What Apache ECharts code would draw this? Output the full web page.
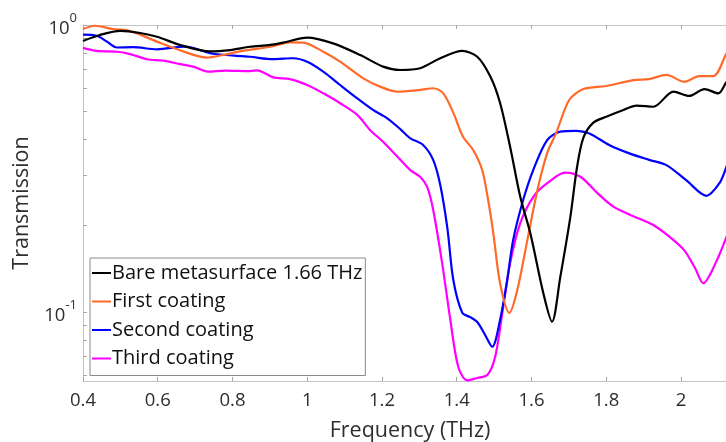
<!DOCTYPE html>
<html>
<head>
<meta charset="utf-8">
<script src="https://cdn.jsdelivr.net/npm/echarts@6/dist/echarts.min.js"></script>
<style>html,body{margin:0;padding:0;background:#fff}#c{width:726px;height:442px}</style>
</head>
<body>
<div id="c"></div>
<script>
// ---------- data ----------
const seriesNames = ['Bare metasurface 1.66 THz', 'First coating', 'Second coating', 'Third coating'];
const seriesColors = ['#000000', '#ff6a2a', '#0000ff', '#ff00ff'];

const bareFreq = [0.40,0.445,0.50,0.553,0.598,0.66,0.74,0.794,0.847,0.901,0.935,1.00,1.069,1.142,1.203,1.249,1.302,1.356,1.415,1.455,1.49,1.516,1.543,1.57,1.597,1.632,1.655,1.677,1.704,1.722,1.739,1.765,1.80,1.846,1.881,1.926,1.98,2.022,2.063,2.10,2.122,2.15];
const bareT    = [0.880,0.923,0.954,0.938,0.910,0.852,0.809,0.818,0.840,0.852,0.868,0.903,0.863,0.786,0.716,0.697,0.707,0.766,0.812,0.775,0.661,0.535,0.376,0.252,0.188,0.116,0.0925,0.132,0.214,0.320,0.405,0.456,0.479,0.506,0.524,0.519,0.586,0.566,0.598,0.578,0.634,0.70];

const firstFreq = [0.40,0.432,0.48,0.526,0.598,0.652,0.732,0.775,0.82,0.901,0.954,0.989,1.043,1.088,1.15,1.195,1.241,1.302,1.337,1.364,1.391,1.417,1.444,1.468,1.484,1.498,1.516,1.541,1.562,1.589,1.616,1.642,1.666,1.701,1.739,1.80,1.873,1.915,1.961,2.009,2.049,2.087,2.122,2.15];
const firstT    = [0.968,0.994,0.968,0.953,0.875,0.823,0.770,0.786,0.809,0.840,0.870,0.868,0.807,0.745,0.652,0.610,0.586,0.594,0.602,0.578,0.494,0.408,0.367,0.313,0.246,0.188,0.126,0.0993,0.119,0.178,0.266,0.358,0.420,0.548,0.598,0.613,0.643,0.648,0.670,0.634,0.664,0.664,0.797,0.90];

const secondFreq = [0.40,0.437,0.464,0.491,0.534,0.598,0.673,0.748,0.847,0.909,0.962,1.00,1.043,1.088,1.134,1.176,1.214,1.249,1.276,1.31,1.337,1.356,1.375,1.391,1.415,1.436,1.455,1.476,1.495,1.516,1.535,1.551,1.578,1.605,1.642,1.677,1.72,1.755,1.808,1.862,1.915,1.961,2.014,2.068,2.103,2.122,2.15];
const secondT    = [0.925,0.917,0.875,0.835,0.837,0.823,0.841,0.794,0.775,0.760,0.766,0.745,0.688,0.618,0.555,0.506,0.473,0.434,0.403,0.382,0.339,0.277,0.196,0.129,0.0993,0.096,0.0923,0.0832,0.0757,0.0938,0.129,0.178,0.246,0.313,0.397,0.425,0.428,0.419,0.382,0.357,0.339,0.325,0.288,0.254,0.281,0.321,0.40];

const thirdFreq = [0.40,0.437,0.491,0.526,0.571,0.614,0.66,0.695,0.735,0.78,0.847,0.866,0.909,0.954,1.00,1.043,1.088,1.134,1.168,1.203,1.241,1.276,1.302,1.321,1.337,1.361,1.383,1.404,1.428,1.455,1.482,1.503,1.522,1.543,1.57,1.605,1.642,1.69,1.731,1.776,1.819,1.865,1.926,1.969,2.009,2.038,2.06,2.084,2.122,2.15];
const thirdT    = [0.832,0.812,0.807,0.792,0.760,0.751,0.731,0.716,0.688,0.694,0.691,0.695,0.657,0.648,0.618,0.578,0.534,0.486,0.431,0.392,0.348,0.312,0.296,0.273,0.227,0.148,0.0938,0.0645,0.0578,0.0589,0.0603,0.0699,0.0992,0.148,0.204,0.252,0.281,0.306,0.296,0.260,0.233,0.218,0.201,0.183,0.164,0.142,0.126,0.140,0.183,0.24];

const xTicks = [0.4, 0.6, 0.8, 1, 1.2, 1.4, 1.6, 1.8, 2];
const yTicks = [0.06, 0.07, 0.08, 0.09, 0.1, 0.2, 0.3, 0.4, 0.5, 0.6, 0.7, 0.8, 0.9, 1];
const yLabels = [0.1, 1];
const xRange = [0.4, 2.15];
const yRange = [0.0575, 1];

// ---------- chart ----------
const FONT = 'Open Sans';
const TXT = '#2e2e2e';
const AX = '#c4c4c4';
const TK = '#a6a6a6';

const freqs = [bareFreq, firstFreq, secondFreq, thirdFreq];
const vals = [bareT, firstT, secondT, thirdT];

const series = seriesNames.map((name, i) => ({
  name: name,
  type: 'line',
  xAxisIndex: 0,
  yAxisIndex: 0,
  data: freqs[i].map((f, k) => [f, vals[i][k]]),
  showSymbol: false,
  symbol: 'none',
  smooth: 0.3,
  lineStyle: { color: seriesColors[i], width: 2.2 },
  itemStyle: { color: seriesColors[i] },
  z: 3 + (3 - i),
  animation: false
}));

const chart = echarts.init(document.getElementById('c'), null, { renderer: 'canvas' });
chart.setOption({
  animation: false,
  backgroundColor: '#ffffff',
  textStyle: { fontFamily: FONT },
  grid: { left: 83, top: 25, right: -11, bottom: 61, containLabel: false, outerBoundsMode: 'none' },
  legend: {
    orient: 'vertical',
    left: 90,
    top: 258,
    data: seriesNames,
    icon: 'rect',
    itemWidth: 19,
    itemHeight: 2,
    itemGap: 6.5,
    padding: [4, 3, 6, 2],
    backgroundColor: '#ffffff',
    borderColor: '#8a8a8a',
    borderWidth: 1,
    borderRadius: 0,
    selectedMode: false,
    textStyle: { fontFamily: FONT, fontSize: 20, color: '#111111', lineHeight: 22, padding: [0, 0, 0, -4] }
  },
  xAxis: [{
    type: 'value',
    min: xRange[0], max: xRange[1],
    name: 'Frequency (THz)',
    nameLocation: 'middle',
    nameGap: 39,
    nameTextStyle: { fontFamily: FONT, fontSize: 21.5, color: TXT },
    axisLine: { show: true, lineStyle: { color: AX, width: 1 } },
    axisTick: { show: true, inside: true, length: 4, customValues: xTicks, lineStyle: { color: TK } },
    axisLabel: { show: true, customValues: xTicks, margin: 10, fontFamily: FONT, fontSize: 18.5, color: TXT },
    splitLine: { show: false }
  }, {
    type: 'value',
    position: 'top',
    min: xRange[0], max: xRange[1],
    axisLine: { show: true, onZero: false, lineStyle: { color: AX, width: 1 } },
    axisTick: { show: true, inside: true, length: 4, customValues: xTicks, lineStyle: { color: TK } },
    axisLabel: { show: false },
    splitLine: { show: false }
  }],
  yAxis: [{
    type: 'log',
    logBase: 10,
    min: yRange[0], max: yRange[1],
    name: 'Transmission',
    nameLocation: 'middle',
    nameGap: 50,
    nameRotate: 90,
    nameTextStyle: { fontFamily: FONT, fontSize: 21.5, color: TXT },
    axisLine: { show: true, lineStyle: { color: AX, width: 1 } },
    axisTick: { show: true, inside: true, length: 4, customValues: yTicks, lineStyle: { color: TK } },
    axisLabel: {
      show: true,
      customValues: yLabels,
      margin: 6,
      formatter: v => (Math.abs(v - 1) < 1e-6 ? '{b|10}{s|0}' : '{b|10}{s|-1}'),
      rich: {
        b: { fontFamily: FONT, fontSize: 18.5, color: TXT, lineHeight: 26, verticalAlign: 'bottom', padding: [4, 0, 0, 0] },
        s: { fontFamily: FONT, fontSize: 13, color: TXT, lineHeight: 26, verticalAlign: 'top' }
      }
    },
    splitLine: { show: false }
  }, {
    type: 'log',
    logBase: 10,
    position: 'right',
    min: yRange[0], max: yRange[1],
    axisLine: { show: true, onZero: false, lineStyle: { color: AX, width: 1 } },
    axisTick: { show: true, inside: true, length: 4, customValues: yTicks, lineStyle: { color: TK } },
    axisLabel: { show: false },
    splitLine: { show: false }
  }],
  series: series
});
</script>
</body>
</html>
